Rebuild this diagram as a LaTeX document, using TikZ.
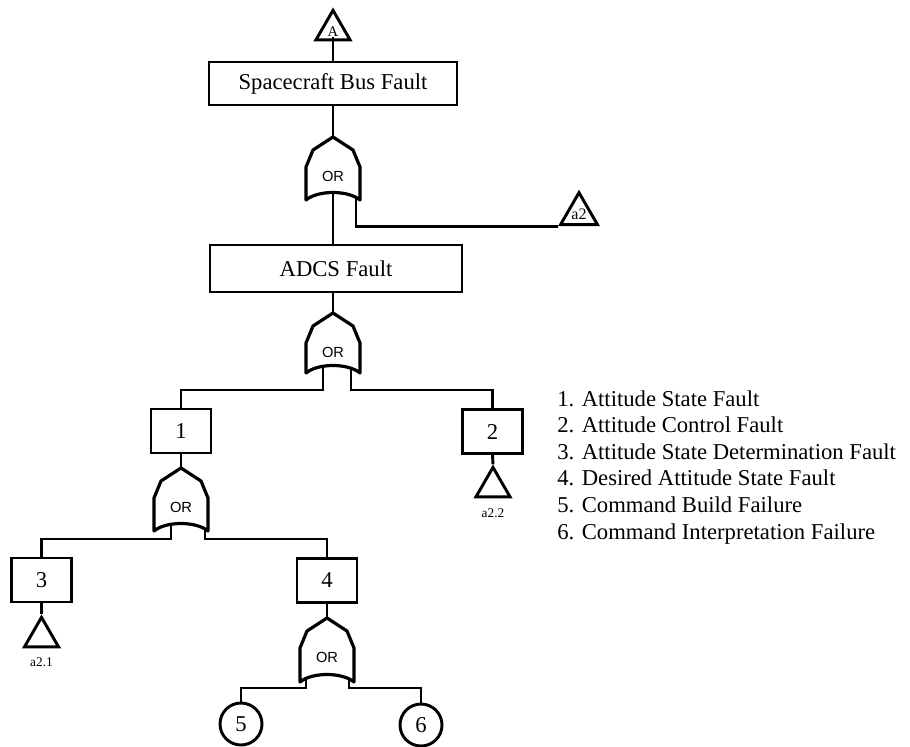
\documentclass[tikz,border=0pt]{standalone}
\usepackage{fontspec}
\setmainfont{Liberation Serif}
\newfontfamily\gatefont{Liberation Sans}
\usetikzlibrary{shapes.geometric}
\pgfdeclarelayer{wires}
\pgfsetlayers{wires,main}

\begin{document}
\begin{tikzpicture}[x=0.75pt,y=-0.75pt,
  wire/.style={line width=2.2pt},
  eventbox/.style={draw, line width=2.2pt, inner sep=0pt,
    font=\fontsize{17}{20}\selectfont},
  smallbox/.style={eventbox, minimum width=45pt, minimum height=33pt},
  transfer/.style={draw, regular polygon, regular polygon sides=3,
    minimum size=29.5pt, inner sep=0pt, line width=2.2pt},
  basic/.style={draw, circle, minimum size=31.5pt, inner sep=0pt,
    line width=2.2pt, font=\fontsize{17}{20}\selectfont},
  gateline/.style={draw, line width=2.4pt, line join=round, fill=white},
  gatetext/.style={font=\gatefont\fontsize{11}{13}\selectfont, inner sep=0pt},
  smalllabel/.style={font=\fontsize{10}{12}\selectfont, inner sep=0pt},
  legendtext/.style={align=left, inner sep=0pt,
    font=\fontsize{17}{20}\selectfont},
  % OR gate: #1 height, #2/#3 x offsets of the input legs, #4 leg drop
  pics/orgate/.style n args={4}{code={
    \path[gateline] (0,0) -- (20,13) -- (27,30) -- (27,#1)
      .. controls (15,#1-10) and (-15,#1-10) .. (-27,#1)
      -- (-27,30) -- (-20,13) -- cycle;
    \node[gatetext] (-txt) at (0,39) {OR};
    \coordinate (-top) at (0,0);
    \coordinate (-l) at (#2,#1-10);
    \coordinate (-r) at (#3,#1-10);
    \coordinate (-lj) at (#2,#1+#4);
    \coordinate (-rj) at (#3,#1+#4);
  }}
]
\useasboundingbox (0,0) rectangle (910,746);

% events
\node[transfer] (topA) at (333,30) {};
\node[smalllabel, font=\fontsize{11}{13}\selectfont] (Atxt) at (333,32) {A};
\node[eventbox, minimum width=186pt, minimum height=32.25pt] (bus) at (333,83.5) {Spacecraft Bus Fault};
\node[eventbox, minimum width=189pt, minimum height=35.25pt] (adcs) at (336,268.5) {ADCS Fault};
\node[transfer, font=\fontsize{12}{14}\selectfont] (a2tri) at (579,214) {a2};

\node[smallbox] (b1) at (181,431) {1};
\node[smallbox] (b2) at (492.5,431.5) {2};
\node[smallbox] (b3) at (41.5,580) {3};
\node[smallbox] (b4) at (327,580.5) {4};

\node[transfer] (t22) at (493,487) {};
\node[smalllabel] (l22) at (493,513) {a2.2};
\node[transfer] (t21) at (41.5,637) {};
\node[smalllabel] (l21) at (41.5,662) {a2.1};

\node[basic] (c5) at (241,724) {5};
\node[basic] (c6) at (421,725) {6};

% gates
\pic (g0) at (333,137) {orgate={63}{0}{23}{22}};
\pic (g1) at (333,313) {orgate={60}{-10}{18}{17}};
\pic (g2) at (181,468) {orgate={63}{-10}{24}{8}};
\pic (g3) at (327,618) {orgate={64}{-21}{22}{6}};

% legend
\node[legendtext, anchor=north west] (legend) at (557,390) {1. Attitude State Fault\\
2. Attitude Control Fault\\
3. Attitude State Determination Fault\\
4. Desired Attitude State Fault\\
5. Command Build Failure\\
6. Command Interpretation Failure};

% connectors
\begin{pgfonlayer}{wires}
\draw[wire] (bus.north) -- (Atxt.south);
\draw[wire] (bus.south) -- (g0-top);
\draw[wire] (g0-l) -- (g0-l |- adcs.north);
\draw[wire] (g0-r) |- (a2tri.corner 2);
\draw[wire] (g1-top |- adcs.south) -- (g1-top);
\draw[wire] (g1-l) -- (g1-lj) -| (b1.north);
\draw[wire] (g1-r) -- (g1-rj) -| (b2.north);
\draw[wire] (b1.south) -- (g2-top);
\draw[wire] (g2-l) -- (g2-lj) -| (b3.north);
\draw[wire] (g2-r) -- (g2-rj) -| (b4.north);
\draw[wire] (b2.south) -- (t22.corner 1);
\draw[wire] (b3.south) -- (t21.corner 1);
\draw[wire] (b4.south) -- (g3-top);
\draw[wire] (g3-l) -- (g3-lj) -| (c5.north);
\draw[wire] (g3-r) -- (g3-rj) -| (c6.north);
\end{pgfonlayer}
\end{tikzpicture}
\end{document}
